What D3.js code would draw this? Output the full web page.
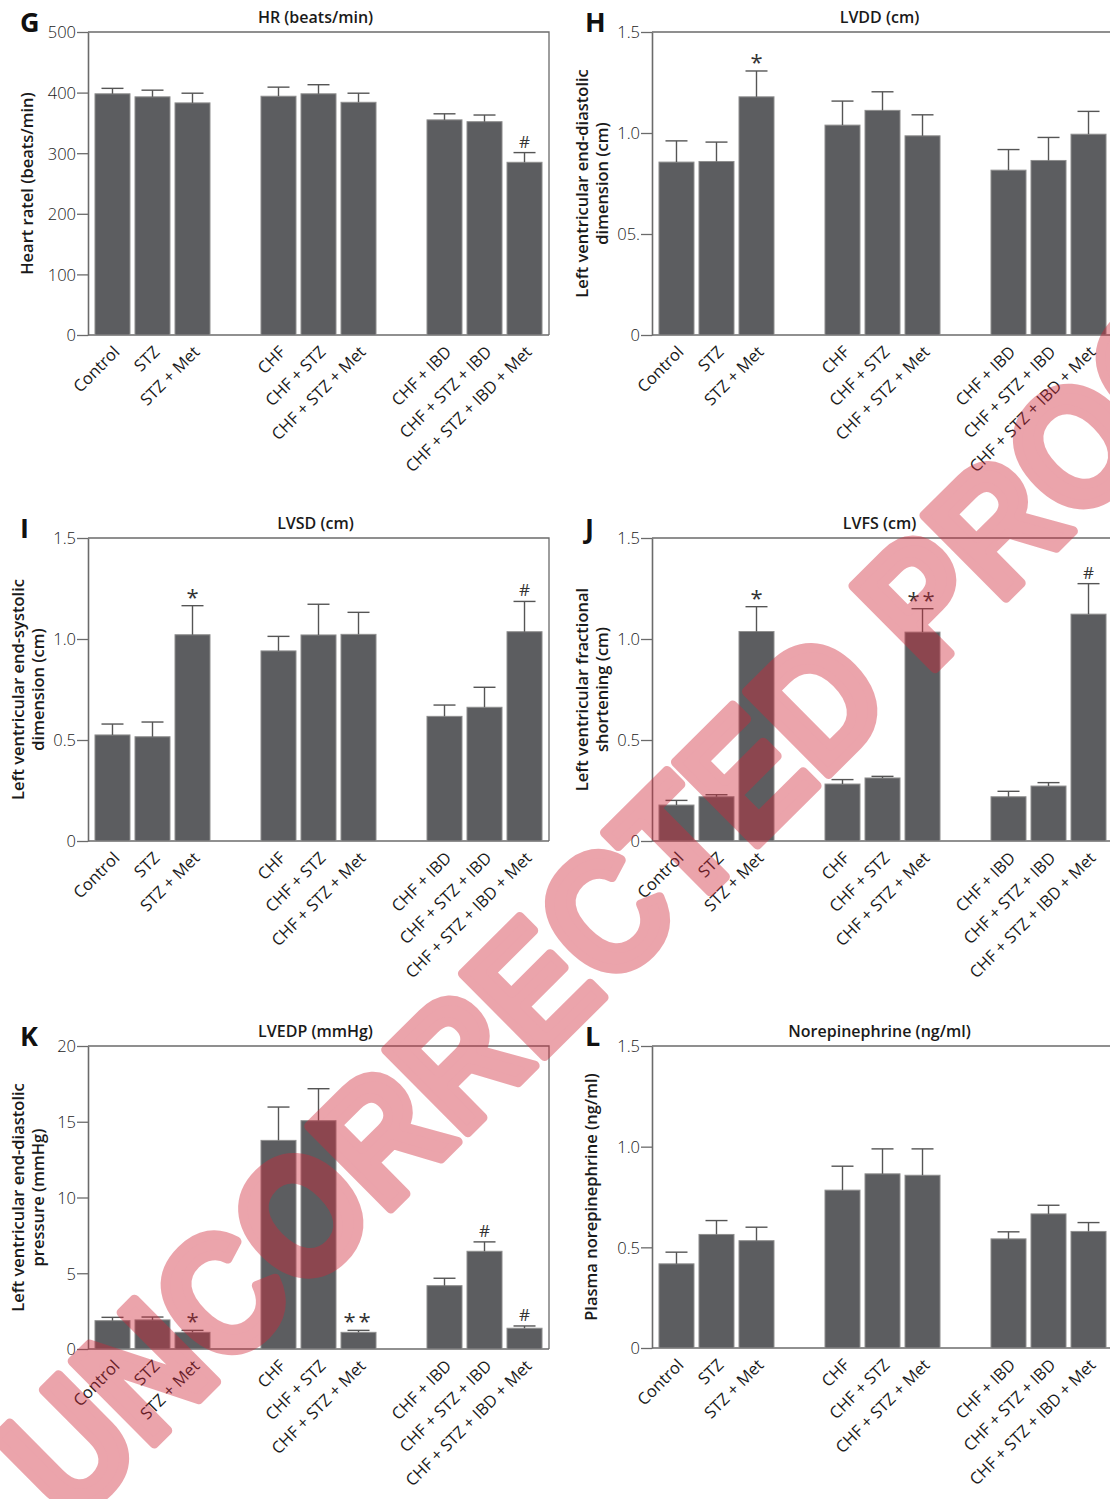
<!DOCTYPE html>
<html>
<head>
<meta charset="utf-8">
<script src="https://cdn.jsdelivr.net/npm/d3@7"></script>
<style>
  body { margin: 0; background: #fff; }
  svg { display: block; }
</style>
</head>
<body>
<svg id="fig" width="1110" height="1499"></svg>
<script>
// Treatment groups, shown as three clusters of three bars
const categories = ["Control", "STZ", "STZ + Met",
                    "CHF", "CHF + STZ", "CHF + STZ + Met",
                    "CHF + IBD", "CHF + STZ + IBD", "CHF + STZ + IBD + Met"];
const clusterOf = [0, 0, 0, 1, 1, 1, 2, 2, 2];
const slotOf    = [0, 1, 2, 0, 1, 2, 0, 1, 2];

// G: heart rate (beats/min), mean and SEM
const hrMean = [398, 393, 383, 394, 398, 384, 355, 352, 285];
const hrErr  = [9, 11, 16, 15, 15, 15, 10, 11, 16];
const hrMarks = ["", "", "", "", "", "", "", "", "#"];
const hrTicks = [0, 100, 200, 300, 400, 500];
const hrTickLabels = ["0", "100", "200", "300", "400", "500"];

// H: LV end-diastolic dimension (cm)
const lvddMean = [0.856, 0.859, 1.179, 1.039, 1.112, 0.986, 0.816, 0.864, 0.994];
const lvddErr  = [0.105, 0.096, 0.128, 0.119, 0.092, 0.104, 0.102, 0.114, 0.113];
const lvddMarks = ["", "", "*", "", "", "", "", "", ""];
const lvddTicks = [0, 0.5, 1.0, 1.5];
const lvddTickLabels = ["0", "05.", "1.0", "1.5"];

// I: LV end-systolic dimension (cm)
const lvsdMean = [0.525, 0.516, 1.021, 0.941, 1.020, 1.023, 0.617, 0.662, 1.036];
const lvsdErr  = [0.054, 0.073, 0.144, 0.072, 0.152, 0.109, 0.056, 0.099, 0.150];
const lvsdMarks = ["", "", "*", "", "", "", "", "", "#"];

// J: LV fractional shortening
const lvfsMean = [0.178, 0.219, 1.037, 0.282, 0.312, 1.034, 0.219, 0.272, 1.123];
const lvfsErr  = [0.023, 0.010, 0.123, 0.022, 0.008, 0.116, 0.027, 0.017, 0.151];
const lvfsMarks = ["", "", "*", "", "", "**", "", "", "#"];

// K: LV end-diastolic pressure (mmHg)
const lvedpMean = [1.87, 1.92, 1.10, 13.77, 15.07, 1.10, 4.18, 6.45, 1.37];
const lvedpErr  = [0.22, 0.19, 0.13, 2.20, 2.11, 0.13, 0.49, 0.62, 0.15];
const lvedpMarks = ["", "", "*", "", "", "**", "", "#", "#"];
const lvedpTicks = [0, 5, 10, 15, 20];
const lvedpTickLabels = ["0", "5", "10", "15", "20"];

// L: plasma norepinephrine (ng/ml)
const neMean = [0.418, 0.564, 0.533, 0.784, 0.865, 0.858, 0.542, 0.666, 0.579];
const neErr  = [0.058, 0.069, 0.067, 0.119, 0.124, 0.131, 0.035, 0.043, 0.044];
const neMarks = ["", "", "", "", "", "", "", "", ""];

const cmTicks = [0, 0.5, 1.0, 1.5];
const cmTickLabels = ["0", "0.5", "1.0", "1.5"];

const panels = [
  { letter: "G", title: "HR (beats/min)", ylabel: ["Heart ratel (beats/min)"],
    mean: hrMean, err: hrErr, marks: hrMarks, ticks: hrTicks, tickLabels: hrTickLabels,
    left: 88, top: 32, bottom: 335 },
  { letter: "H", title: "LVDD (cm)", ylabel: ["Left ventricular end-diastolic", "dimension (cm)"],
    mean: lvddMean, err: lvddErr, marks: lvddMarks, ticks: lvddTicks, tickLabels: lvddTickLabels,
    left: 652, top: 32, bottom: 335 },
  { letter: "I", title: "LVSD (cm)", ylabel: ["Left ventricular end-systolic", "dimension (cm)"],
    mean: lvsdMean, err: lvsdErr, marks: lvsdMarks, ticks: cmTicks, tickLabels: cmTickLabels,
    left: 88, top: 538, bottom: 841 },
  { letter: "J", title: "LVFS (cm)", ylabel: ["Left ventricular fractional", "shortening (cm)"],
    mean: lvfsMean, err: lvfsErr, marks: lvfsMarks, ticks: cmTicks, tickLabels: cmTickLabels,
    left: 652, top: 538, bottom: 841 },
  { letter: "K", title: "LVEDP (mmHg)", ylabel: ["Left ventricular end-diastolic", "pressure (mmHg)"],
    mean: lvedpMean, err: lvedpErr, marks: lvedpMarks, ticks: lvedpTicks, tickLabels: lvedpTickLabels,
    left: 88, top: 1046, bottom: 1349 },
  { letter: "L", title: "Norepinephrine (ng/ml)", ylabel: ["Plasma norepinephrine (ng/ml)"],
    mean: neMean, err: neErr, marks: neMarks, ticks: cmTicks, tickLabels: cmTickLabels,
    left: 652, top: 1046, bottom: 1348 }
];

const svg = d3.select("#fig");
const FONT = "'Open Sans', 'Noto Sans', sans-serif";
const INK = "#1a1a1a";
const AXIS = "#6b6b6b";
const BAR_FILL = "#5c5d60";
const BAR_EDGE = "#8e8e8e";
const PANEL_W = 461;

function drawPanel(p) {
  const h = p.bottom - p.top;
  const g = svg.append("g").attr("transform", `translate(${p.left},${p.top})`);

  const y = d3.scaleLinear().domain([0, p.ticks[p.ticks.length - 1]]).range([h, 0]);
  const xCluster = d3.scaleBand().domain([0, 1, 2]).range([0, PANEL_W])
    .paddingInner(0.277).paddingOuter(0.027);
  const xSlot = d3.scaleBand().domain([0, 1, 2]).range([0, xCluster.bandwidth()])
    .paddingInner(0.125).paddingOuter(0.0625);
  const xLeft = i => xCluster(clusterOf[i]) + xSlot(slotOf[i]);
  const xMid = i => xLeft(i) + xSlot.bandwidth() / 2;

  // frame (top and right edges; left/bottom come from the axes)
  g.append("path")
    .attr("d", `M0,0H${PANEL_W}V${h}`)
    .attr("fill", "none").attr("stroke", AXIS).attr("stroke-width", 1.3);
  g.append("line")
    .attr("x1", 0).attr("x2", PANEL_W).attr("y1", h).attr("y2", h)
    .attr("stroke", AXIS).attr("stroke-width", 1.6);

  // y axis
  const yAxis = d3.axisLeft(y)
    .tickValues(p.ticks)
    .tickFormat((d, i) => p.tickLabels[i])
    .tickSizeInner(11).tickSizeOuter(0).tickPadding(1);
  const ya = g.append("g").call(yAxis);
  ya.select(".domain").attr("stroke", AXIS).attr("stroke-width", 1.6);
  ya.selectAll(".tick line").attr("stroke", AXIS).attr("stroke-width", 1.3);
  ya.selectAll(".tick text")
    .attr("font-family", FONT).attr("font-weight", 300)
    .attr("font-size", 16.5).attr("fill", INK).attr("dy", "0.36em");

  // bars
  g.selectAll("rect.bar").data(p.mean).join("rect")
    .attr("class", "bar")
    .attr("x", (d, i) => xLeft(i))
    .attr("width", xSlot.bandwidth())
    .attr("y", d => y(d))
    .attr("height", d => h - y(d))
    .attr("fill", BAR_FILL).attr("stroke", BAR_EDGE).attr("stroke-width", 1);

  // error bars (upper half only)
  const eb = g.selectAll("g.err").data(p.mean).join("g").attr("class", "err");
  eb.append("line")
    .attr("x1", (d, i) => xMid(i)).attr("x2", (d, i) => xMid(i))
    .attr("y1", d => y(d)).attr("y2", (d, i) => y(d + p.err[i]))
    .attr("stroke", "#555").attr("stroke-width", 1.4);
  eb.append("line")
    .attr("x1", (d, i) => xMid(i) - 11).attr("x2", (d, i) => xMid(i) + 11)
    .attr("y1", (d, i) => y(d + p.err[i])).attr("y2", (d, i) => y(d + p.err[i]))
    .attr("stroke", "#555").attr("stroke-width", 1.4);

  // significance marks
  g.selectAll("text.mark").data(p.marks).join("text")
    .attr("class", "mark")
    .attr("x", (d, i) => xMid(i))
    .attr("y", (d, i) => y(p.mean[i] + p.err[i]) - (d === "#" ? 5 : 1))
    .attr("text-anchor", "middle")
    .attr("font-family", FONT)
    .attr("font-size", d => d === "#" ? 17 : 22)
    .attr("letter-spacing", d => d === "**" ? 3 : 0)
    .attr("fill", "#333")
    .text(d => d);

  // category labels, rotated
  g.selectAll("text.cat").data(categories).join("text")
    .attr("class", "cat")
    .attr("transform", (d, i) => `translate(${xMid(i) + 4},${h + 14}) rotate(-45)`)
    .attr("text-anchor", "end")
    .attr("dy", "0.35em")
    .attr("font-family", FONT).attr("font-size", 16.5).attr("fill", INK)
    .text(d => d);

  // title
  g.append("text")
    .attr("x", PANEL_W / 2 - 3).attr("y", -9)
    .attr("text-anchor", "middle")
    .attr("font-family", FONT).attr("font-weight", 600).attr("font-size", 16)
    .attr("fill", INK)
    .text(p.title);

  // panel letter
  g.append("text")
    .attr("x", p.left < 300 ? -68 : -67).attr("y", 0)
    .attr("font-family", FONT).attr("font-weight", 700).attr("font-size", 27)
    .attr("fill", "#111")
    .text(p.letter);

  // y-axis title
  const nLines = p.ylabel.length;
  const yl = g.append("text")
    .attr("transform", `translate(${nLines === 1 ? -61 : -70},${h / 2}) rotate(-90)`)
    .attr("text-anchor", "middle")
    .attr("font-family", FONT).attr("font-weight", 600).attr("font-size", 16.5)
    .attr("fill", INK);
  p.ylabel.forEach((line, k) => {
    yl.append("tspan")
      .attr("x", 0)
      .attr("dy", k === 0 ? "0.35em" : "1.2em")
      .text(line);
  });
}

panels.forEach(drawPanel);

// "uncorrected proof" stamp across the page
const stamp = svg.append("g").attr("opacity", 0.42);
stamp.append("text")
  .attr("transform", "translate(70,1527) rotate(-44.8) scale(1,1.12)")
  .attr("font-family", "'Liberation Sans', Arial, sans-serif")
  .attr("font-weight", 700)
  .attr("font-size", 150)
  .attr("fill", "#d0283a")
  .attr("stroke", "#d0283a")
  .attr("stroke-width", 9)
  .attr("stroke-linejoin", "round")
  .text("UNCORRECTED PROOF");
</script>
</body>
</html>
